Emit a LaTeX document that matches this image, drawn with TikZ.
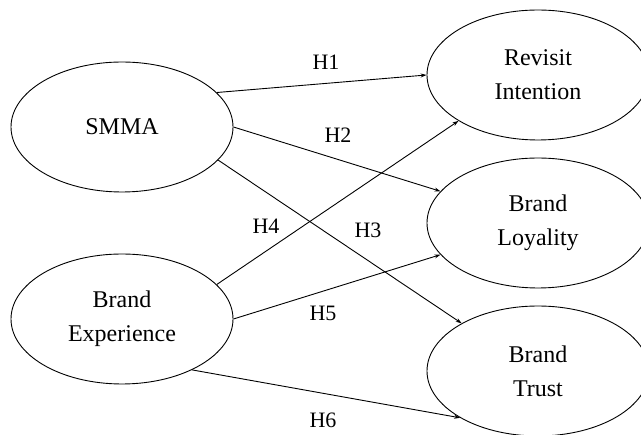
\documentclass[tikz,border=0pt]{standalone}
\usepackage{fontspec}
\setmainfont{Liberation Serif}
\usetikzlibrary{shapes.geometric,arrows.meta}
\tikzset{
  construct/.style={ellipse,draw,line width=0.9pt,inner sep=0pt,
    minimum width=222pt,minimum height=130pt,align=center,
    font=\fontsize{24}{34}\selectfont},
  path/.style={line width=0.9pt,-{Stealth[length=6pt,width=4pt]}},
  hyp/.style={font=\fontsize{22}{26}\selectfont,inner sep=0pt}
}
\begin{document}
\begin{tikzpicture}[x=1pt,y=-1pt]
\clip (0,0) rectangle (641,435);
\useasboundingbox (0,0) rectangle (641,435);
% exogenous constructs
\node[construct] (smma) at (122,127) {SMMA};
\node[construct] (bexp) at (122,319) {Brand\\Experience};
% endogenous constructs
\node[construct] (rint) at (538,75) {Revisit\\Intention};
\node[construct] (bloy) at (538,223) {Brand\\Loyality};
\node[construct] (btru) at (538,371) {Brand\\Trust};
% hypothesised paths
\draw[path] (smma.20) -- (rint.180);
\draw[path] (smma.0) -- (bloy.162);
\draw[path] (smma.-19) -- (btru.148.5);
\draw[path] (bexp.20.6) -- (rint.210.4);
\draw[path] (bexp.0) -- (bloy.198);
\draw[path] (bexp.-36.6) -- (btru.211);
% path labels
\node[hyp] (h1) at (326,62) {H1};
\node[hyp] (h2) at (338,135) {H2};
\node[hyp] (h3) at (368,230) {H3};
\node[hyp] (h4) at (266,226) {H4};
\node[hyp] (h5) at (323,313) {H5};
\node[hyp] (h6) at (323,420) {H6};
\end{tikzpicture}
\end{document}
